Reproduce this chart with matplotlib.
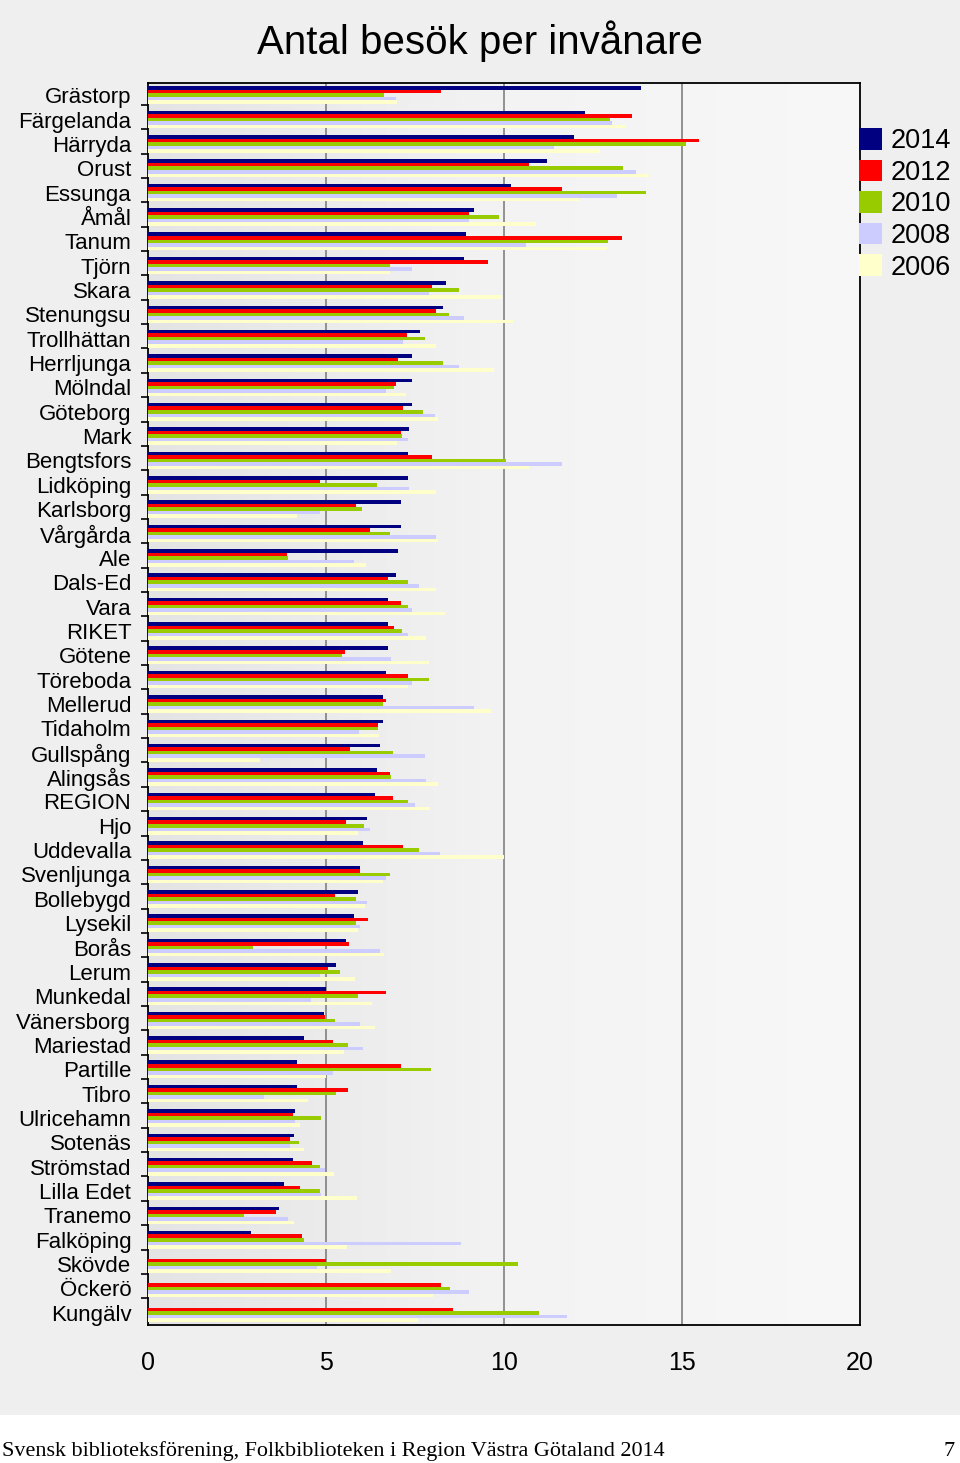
import numpy as np
import matplotlib
matplotlib.use("Agg")
import matplotlib.pyplot as plt
from matplotlib.colors import LinearSegmentedColormap
from matplotlib.patches import Rectangle, Patch

plt.rcParams['font.family'] = ['Liberation Sans', 'DejaVu Sans']

categories = ["Grästorp", "Färgelanda", "Härryda", "Orust", "Essunga", "Åmål", "Tanum",
              "Tjörn", "Skara", "Stenungsu", "Trollhättan", "Herrljunga", "Mölndal",
              "Göteborg", "Mark", "Bengtsfors", "Lidköping", "Karlsborg", "Vårgårda",
              "Ale", "Dals-Ed", "Vara", "RIKET", "Götene", "Töreboda", "Mellerud",
              "Tidaholm", "Gullspång", "Alingsås", "REGION", "Hjo", "Uddevalla",
              "Svenljunga", "Bollebygd", "Lysekil", "Borås", "Lerum", "Munkedal",
              "Vänersborg", "Mariestad", "Partille", "Tibro", "Ulricehamn", "Sotenäs",
              "Strömstad", "Lilla Edet", "Tranemo", "Falköping", "Skövde", "Öckerö",
              "Kungälv"]

y2014 = [13.86, 12.28, 11.96, 11.21, 10.19, 9.16, 8.92, 8.88, 8.37, 8.29, 7.63, 7.41, 7.41,
         7.41, 7.34, 7.30, 7.30, 7.11, 7.11, 7.02, 6.96, 6.75, 6.75, 6.75, 6.68, 6.60,
         6.60, 6.51, 6.43, 6.39, 6.15, 6.04, 5.95, 5.91, 5.80, 5.57, 5.29, 5.01,
         4.94, 4.39, 4.18, 4.18, 4.14, 4.10, 4.06, 3.83, 3.67, 2.88, 0.0, 0.0, 0.0]
y2012 = [8.22, 13.59, 15.48, 10.70, 11.64, 9.01, 13.31, 9.55, 7.97, 8.09, 7.27, 7.02, 6.96,
         7.17, 7.11, 7.97, 4.82, 5.83, 6.23, 3.90, 6.75, 7.11, 6.90, 5.53, 7.30, 6.68,
         6.47, 5.68, 6.79, 6.87, 5.55, 7.17, 5.95, 5.25, 6.19, 5.64, 5.07, 6.68,
         4.97, 5.21, 7.11, 5.61, 4.08, 3.99, 4.61, 4.27, 3.59, 4.33, 5.01, 8.24, 8.57]
y2010 = [6.62, 12.99, 15.12, 13.35, 13.99, 9.86, 12.92, 6.79, 8.73, 8.45, 7.77, 8.29, 6.90,
         7.73, 7.13, 10.06, 6.43, 6.00, 6.79, 3.94, 7.30, 7.30, 7.13, 5.44, 7.90, 6.60,
         6.47, 6.87, 6.83, 7.30, 6.06, 7.62, 6.79, 5.83, 5.83, 2.96, 5.38, 5.89,
         5.25, 5.61, 7.94, 5.27, 4.85, 4.23, 4.82, 4.82, 2.71, 4.39, 10.38, 8.48, 10.98]
y2008 = [6.96, 13.03, 11.41, 13.71, 13.18, 9.03, 10.61, 7.41, 7.90, 8.88, 7.17, 8.73, 6.69,
         8.05, 7.29, 11.64, 7.34, 4.82, 8.09, 5.80, 7.62, 7.41, 7.30, 6.83, 7.41, 9.16,
         5.92, 7.77, 7.81, 7.49, 6.23, 8.20, 6.69, 6.15, 5.95, 6.51, 4.84, 4.57,
         5.96, 6.04, 5.21, 3.26, 4.14, 3.99, 4.97, 4.87, 3.92, 8.79, 4.75, 9.01, 11.76]
y2006 = [7.00, 13.40, 12.70, 14.08, 12.10, 10.89, 12.90, 6.80, 9.94, 10.25, 8.09, 9.72, 7.26,
         8.15, 7.00, 10.70, 8.09, 4.18, 8.15, 6.11, 8.09, 8.34, 7.81, 7.90, 7.30, 9.64,
         6.50, 3.16, 8.15, 7.92, 5.90, 10.00, 6.60, 6.10, 5.90, 6.62, 5.82, 6.28,
         6.37, 5.50, 5.00, 4.50, 4.27, 4.37, 5.22, 5.86, 4.10, 5.58, 6.82, 8.00, 7.58]

series_labels = ["2014", "2012", "2010", "2008", "2006"]
series_values = [y2014, y2012, y2010, y2008, y2006]
series_colors = ["#000080", "#ff0000", "#99cc00", "#ccccff", "#ffffcc"]
xticks = [0, 5, 10, 15, 20]

fig = plt.figure(figsize=(9.6, 14.63), dpi=100)
fig.patch.set_facecolor("#efefef")

ax = fig.add_axes([148/960, 1 - 1325/1463, (860-148)/960, (1325-83)/1463])

# gradient background for plot area
cmap = LinearSegmentedColormap.from_list("bg", ["#e4e4e4", "#f3f3f3", "#f8f8f8"])
grad = np.linspace(0, 1, 256).reshape(1, -1)
ax.imshow(grad, cmap=cmap, aspect="auto", extent=[0, 1, 0, 1],
          transform=ax.transAxes, zorder=0)

n = len(categories)
pos = np.arange(n)
h = 0.145
for i, (lab, vals, col) in enumerate(zip(series_labels, series_values, series_colors)):
    ax.barh(pos + (i - 2) * h, vals, height=h, color=col, edgecolor="none",
            zorder=3, label=lab)

for xv in xticks[1:-1]:
    ax.axvline(xv, color="#808080", lw=1.2, zorder=1)

ax.set_xlim(0, 20)
ax.set_ylim(n - 0.5, -0.5)
ax.set_xticks(xticks)
ax.set_xticklabels([str(v) for v in xticks], fontsize=18)
ax.tick_params(axis="x", length=0, pad=19)

ax.set_yticks(pos)
ax.set_yticklabels(categories, fontsize=16)
ax.tick_params(axis="y", which="major", length=0, pad=12)
ax.set_yticks(pos[:-1] + 0.4, minor=True)
ax.tick_params(axis="y", which="minor", length=5, width=1.2, direction="out", color="black")

for sp in ax.spines.values():
    sp.set_color("black")
    sp.set_linewidth(1.3)

fig.text(0.5, 1 - 41/1463, "Antal besök per invånare", ha="center", va="center",
         fontsize=29)

handles = [Patch(facecolor=c, edgecolor="none") for c in series_colors]
fig.legend(handles, series_labels, loc="upper left",
           bbox_to_anchor=(859/960, 1 - 128/1463), frameon=False, fontsize=19.5,
           borderaxespad=0, borderpad=0,
           handlelength=0.85, handleheight=0.85, handletextpad=0.3, labelspacing=0.2)

# footer band
fig.patches.append(Rectangle((0, 0), 1, 48/1463, transform=fig.transFigure,
                             facecolor="white", edgecolor="none", zorder=-1))
fig.text(2/960, 1 - 1451/1463, "Svensk biblioteksförening, Folkbiblioteken i Region Västra Götaland 2014",
         ha="left", va="center", fontsize=15.9, family=["Liberation Serif", "DejaVu Serif"])
fig.text(955/960, 1 - 1451/1463, "7", ha="right", va="center", fontsize=15.9,
         family=["Liberation Serif", "DejaVu Serif"])

fig.savefig("out.png", dpi=100, facecolor=fig.get_facecolor())
